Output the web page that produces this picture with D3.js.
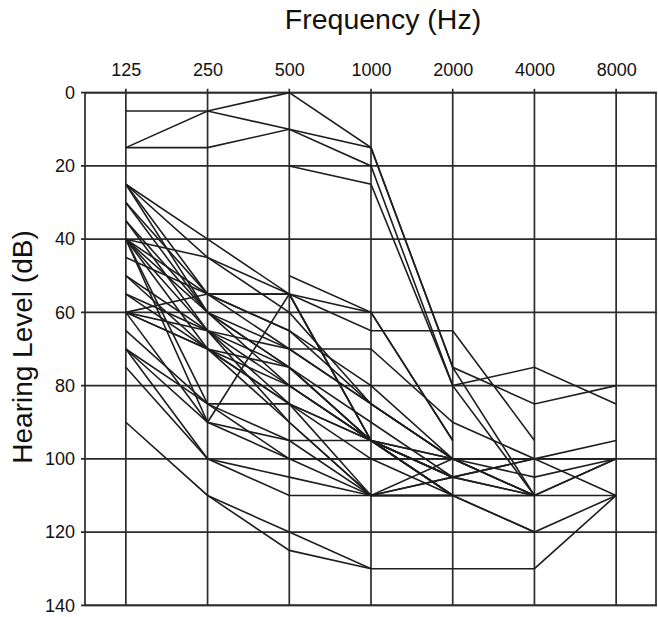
<!DOCTYPE html>
<html>
<head>
<meta charset="utf-8">
<script src="https://cdn.jsdelivr.net/npm/d3@7"></script>
<style>
  html, body { margin: 0; padding: 0; background: #fff; }
  svg { display: block; }
</style>
</head>
<body>
<script>
// ---- data ----
const frequencies = [125, 250, 500, 1000, 2000, 4000, 8000];
const freqLabels = ["125", "250", "500", "1000", "2000", "4000", "8000"];
const levelTicks = [0, 20, 40, 60, 80, 100, 120, 140];

// hearing thresholds (dB HL) per subject at 125..8000 Hz (null = not measured)
const thresholds = [
  [5, 5, 0, 15, 75, 85, 80],
  [15, 5, 10, 15, 75, 110, null],
  [15, 15, 10, 20, 80, 75, 85],
  [null, null, 20, 25, 80, 110, 100],
  [25, 40, 55, 65, 65, 95, null],
  [25, 45, 60, 85, 100, 100, 95],
  [25, 55, 65, 80, 100, 110, 100],
  [25, 60, 75, 95, 105, 100, 100],
  [30, 55, 70, 85, 100, 110, null],
  [30, 60, 80, 95, 105, null, null],
  [35, 60, 75, 90, 105, 110, 110],
  [35, 65, 85, 95, 100, null, null],
  [40, 45, 55, 60, 95, null, null],
  [40, 55, 55, 95, 110, 120, 110],
  [40, 60, 70, 70, 90, 100, null],
  [40, 65, 75, 95, 100, 105, 100],
  [40, 70, 80, 95, 110, 110, null],
  [40, 85, 85, 110, 105, null, null],
  [40, 90, 95, 95, 110, 110, null],
  [45, 55, 65, 85, 100, 110, null],
  [50, 65, 80, 95, 105, null, null],
  [50, 70, 85, 100, 110, null, null],
  [55, 70, 75, 95, 110, null, null],
  [55, 65, 90, 110, 110, null, null],
  [60, 55, 55, 95, 105, null, null],
  [60, 65, 70, 85, 100, null, null],
  [60, 70, 85, 95, 110, null, null],
  [60, 70, 90, 110, 110, null, null],
  [60, 90, 55, 95, 105, 100, null],
  [65, 85, 95, 110, 110, 120, null],
  [70, 85, 100, 100, 100, 100, 110],
  [70, 90, 100, 110, 105, 110, null],
  [70, 100, 110, 110, 110, null, null],
  [75, 100, 105, 110, 100, null, null],
  [90, 110, 120, 130, 130, 130, 110],
  [null, 110, 125, 130, null, null, null],
  [null, null, 50, 60, 95, null, null]
];

// ---- layout ----
const W = 658, H = 617;
const svg = d3.select("body").append("svg").attr("width", W).attr("height", H);

const x = d3.scaleLog().base(2)
  .domain([125 / Math.SQRT2, 8000 * Math.SQRT2])
  .range([85, 657]);
const y = d3.scaleLinear().domain([0, 140]).range([92.7, 605.3]);

const font = "'Liberation Sans', Arial, Helvetica, sans-serif";
const gridColor = "#2b2b2b";

// grid: vertical at each frequency
svg.append("g").selectAll("line").data(frequencies).join("line")
  .attr("x1", d => x(d)).attr("x2", d => x(d))
  .attr("y1", y(0) - 4).attr("y2", y(140))
  .attr("stroke", gridColor).attr("stroke-width", 1.7);

// grid: horizontal at each level tick
svg.append("g").selectAll("line").data(levelTicks).join("line")
  .attr("x1", x.range()[0] - 4).attr("x2", x.range()[1])
  .attr("y1", d => y(d)).attr("y2", d => y(d))
  .attr("stroke", gridColor).attr("stroke-width", 1.7);

// frame
svg.append("rect")
  .attr("x", x.range()[0]).attr("y", y(0))
  .attr("width", x.range()[1] - x.range()[0] - 1)
  .attr("height", y(140) - y(0))
  .attr("fill", "none").attr("stroke", gridColor).attr("stroke-width", 1.7);

// axes labels via d3 axes (text only)
const xAxis = d3.axisTop(x).tickValues(frequencies)
  .tickFormat((d, i) => freqLabels[i]).tickSize(0).tickPadding(0);
const gx = svg.append("g").attr("transform", `translate(0, 76)`).call(xAxis);
gx.select(".domain").remove();
gx.selectAll("text").attr("font-family", font).attr("font-size", 18).attr("fill", "#111");

const yAxis = d3.axisLeft(y).tickValues(levelTicks).tickSize(0).tickPadding(0);
const gy = svg.append("g").attr("transform", `translate(75, 0)`).call(yAxis);
gy.select(".domain").remove();
gy.selectAll("text").attr("font-family", font).attr("font-size", 18).attr("fill", "#111");

// titles
svg.append("text").attr("x", 383).attr("y", 29)
  .attr("text-anchor", "middle").attr("font-family", font)
  .attr("font-size", 28.5).attr("fill", "#111").text("Frequency (Hz)");

svg.append("text")
  .attr("transform", `translate(32, 347) rotate(-90)`)
  .attr("text-anchor", "middle").attr("font-family", font)
  .attr("font-size", 28).attr("fill", "#111").text("Hearing Level (dB)");

// data lines
const line = d3.line()
  .defined(d => d.v != null)
  .x(d => x(d.f)).y(d => y(d.v));

svg.append("g").selectAll("path")
  .data(thresholds.map(s => s.map((v, i) => ({ f: frequencies[i], v }))))
  .join("path")
  .attr("d", line)
  .attr("fill", "none")
  .attr("stroke", "#1e1e1e")
  .attr("stroke-width", 1.6)
  .attr("stroke-linejoin", "miter");
</script>
</body>
</html>
